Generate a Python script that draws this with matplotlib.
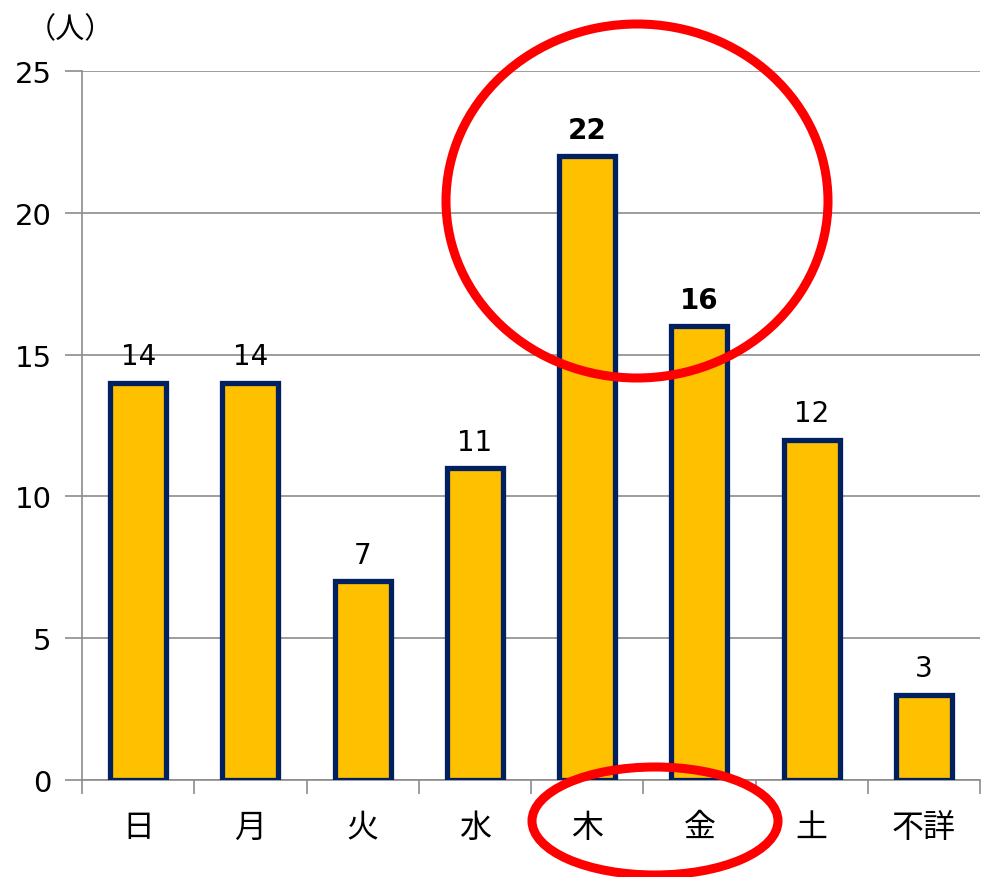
import matplotlib.pyplot as plt
from matplotlib.patches import Ellipse

plt.rcParams['font.family'] = ['Noto Sans CJK JP', 'DejaVu Sans']

# data
days = ['日', '月', '火', '水', '木', '金', '土', '不詳']
counts = [14, 14, 7, 11, 22, 16, 12, 3]
bold_days = ['木', '金']

fig = plt.figure(figsize=(9.82, 8.78), dpi=100)
ax = fig.add_axes([82 / 982, 97 / 878, 898 / 982, 709 / 878])

x = list(range(len(days)))
ax.bar(x, counts, width=0.5, color='#FFC000', edgecolor='#002060',
       linewidth=3.8, zorder=3)

for xi, d, c in zip(x, days, counts):
    ax.annotate(str(c), (xi, c), xytext=(0, 9), textcoords='offset points',
                ha='center', va='bottom', fontsize=20,
                fontweight='bold' if d in bold_days else 'normal',
                family='DejaVu Sans', zorder=4)

ax.set_xlim(-0.5, len(days) - 0.5)
ax.set_ylim(0, 25)
ax.set_yticks([0, 5, 10, 15, 20, 25])
ax.set_yticklabels(['0', '5', '10', '15', '20', '25'], family='DejaVu Sans')
ax.tick_params(axis='y', labelsize=21, length=12, color='#8c8c8c', width=1.2, pad=10)
ax.yaxis.grid(True, color='#8c8c8c', linewidth=1.2, zorder=0)

# category labels between boundary ticks
ax.set_xticks([i - 0.5 for i in range(len(days) + 1)])
ax.set_xticklabels([])
ax.set_xticks(x, minor=True)
ax.set_xticklabels(days, minor=True)
ax.tick_params(axis='x', which='major', length=10, color='#8c8c8c', width=1.2)
ax.tick_params(axis='x', which='minor', length=0, labelsize=23, pad=22)

for s in ['top', 'right']:
    ax.spines[s].set_visible(False)
ax.spines['left'].set_color('#8c8c8c')
ax.spines['left'].set_linewidth(1.2)
ax.spines['bottom'].set_color('#8c8c8c')
ax.spines['bottom'].set_linewidth(1.2)

fig.text(70 / 982, 1 - 30 / 878, '（人）', ha='center', va='center', fontsize=21)

# red highlight ellipses, in figure pixels
fig.patches.append(Ellipse((637 / 982, 1 - 202 / 878), 382 / 982, 354 / 878,
                           transform=fig.transFigure, fill=False,
                           edgecolor='#FF0000', linewidth=6.5, zorder=10))
fig.patches.append(Ellipse((655 / 982, 1 - 822 / 878), 246 / 982, 108 / 878,
                           transform=fig.transFigure, fill=False,
                           edgecolor='#FF0000', linewidth=6.5, zorder=10))

fig.savefig('out.png', dpi=100)
